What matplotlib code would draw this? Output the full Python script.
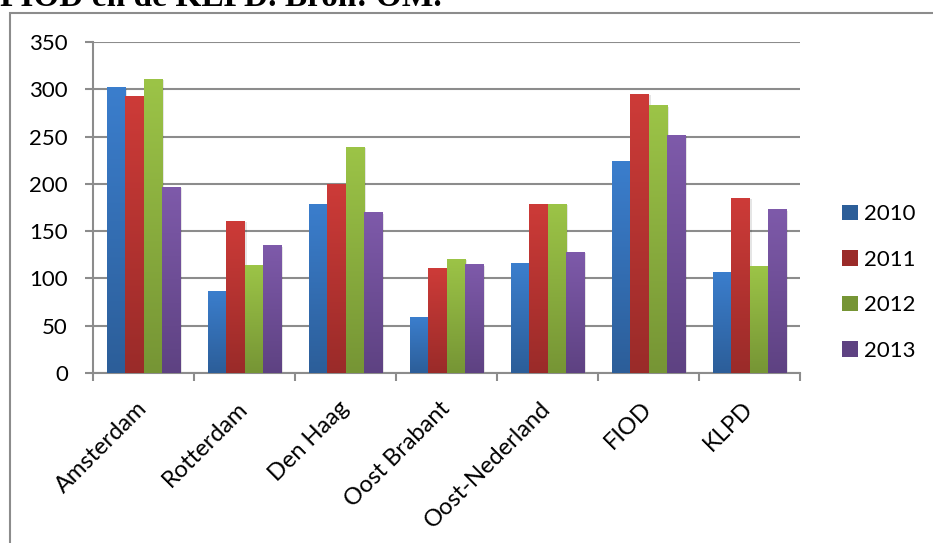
import numpy as np
import matplotlib
matplotlib.use("Agg")
import matplotlib.pyplot as plt
from matplotlib.patches import Patch, Rectangle
from matplotlib.colors import to_rgb

categories = ["Amsterdam", "Rotterdam", "Den Haag", "Oost Brabant",
              "Oost-Nederland", "FIOD", "KLPD"]
years = ["2010", "2011", "2012", "2013"]
v2010 = [302, 87, 179, 59, 116, 224, 107]
v2011 = [293, 161, 200, 111, 179, 295, 185]
v2012 = [311, 114, 239, 121, 179, 283, 113]
v2013 = [197, 135, 170, 115, 128, 252, 173]
series = [v2010, v2011, v2012, v2013]

# light (top) and dark (bottom) colour of each year's gradient
top_cols = ["#3B7ECD", "#CD3B38", "#9CC447", "#7E5AAA"]
bot_cols = ["#2C5E99", "#9A2B29", "#769535", "#5E4282"]

plt.rcParams['font.family'] = ['Lato', 'DejaVu Sans']
grid_col = "#8C8C8C"

fig = plt.figure(figsize=(9.33, 5.43), dpi=100)
ax = fig.add_axes([93/933, 1-373/543, (800-93)/933, (373-42)/543])

x = np.arange(len(categories))
w = 0.183
for i, vals in enumerate(series):
    bars = ax.bar(x + (i - 1.5) * w, vals, w, facecolor="none",
                  edgecolor="none", zorder=3)
    c0 = np.array(to_rgb(top_cols[i]))
    c1 = np.array(to_rgb(bot_cols[i]))
    t = np.linspace(0, 1, 100)[:, None]
    grad = (c0 * (1 - t) + c1 * t)[:, None, :]
    for r in bars:
        x0, y0 = r.get_x(), r.get_y()
        bw, bh = r.get_width(), r.get_height()
        # faint shadow to the right
        ax.add_patch(Rectangle((x0 + 0.02, y0), bw, bh - 1.5,
                               facecolor="#000000", alpha=0.10,
                               edgecolor="none", zorder=2))
        im = ax.imshow(grad, extent=[x0, x0 + bw, y0, y0 + bh],
                       aspect="auto", zorder=3, interpolation="bilinear")
        im.set_clip_path(r)

ax.set_xlim(-0.5, len(categories) - 0.5)
ax.set_ylim(0, 350)
ax.set_yticks(np.arange(0, 351, 50))
ax.yaxis.grid(True, color=grid_col, lw=1.5, zorder=1)
ax.set_axisbelow(True)

ax.set_xticks(x)
ax.set_xticklabels(categories)
ax.set_xticks(np.arange(-0.5, len(categories)), minor=True)
ax.tick_params(axis="x", which="major", length=0, pad=23, labelsize=17)
ax.tick_params(axis="x", which="minor", length=6, width=1.5, color=grid_col)
ax.tick_params(axis="y", length=6, width=1.5, color=grid_col, pad=12,
               labelsize=16)
plt.setp(ax.get_xticklabels(), rotation=45, ha="right", va="center",
         rotation_mode="anchor")

for s in ["top", "right"]:
    ax.spines[s].set_visible(False)
for s in ["left", "bottom"]:
    ax.spines[s].set_color(grid_col)
    ax.spines[s].set_linewidth(1.5)

handles = [Patch(facecolor=c, edgecolor="none") for c in bot_cols]
fig.legend(handles, years, loc="center left",
           bbox_to_anchor=(842/933, 1-282.5/543), frameon=False,
           fontsize=16, handlelength=0.7, handleheight=0.7,
           handletextpad=0.3, labelspacing=1.15, borderpad=0,
           borderaxespad=0)

# outer chart frame, cut by the picture edges
fig.patches.append(Rectangle((10/933, -0.1), 1.0, 1.1 - 13/543,
                             transform=fig.transFigure, fill=False,
                             edgecolor=grid_col, lw=1.5))

fig.text(0, 1-6/543, "FIOD en de KLPD. Bron: OM.", va="baseline",
         ha="left", fontsize=24, fontweight="bold",
         family=["Liberation Serif", "DejaVu Serif"])

fig.savefig("out.png", dpi=100)
